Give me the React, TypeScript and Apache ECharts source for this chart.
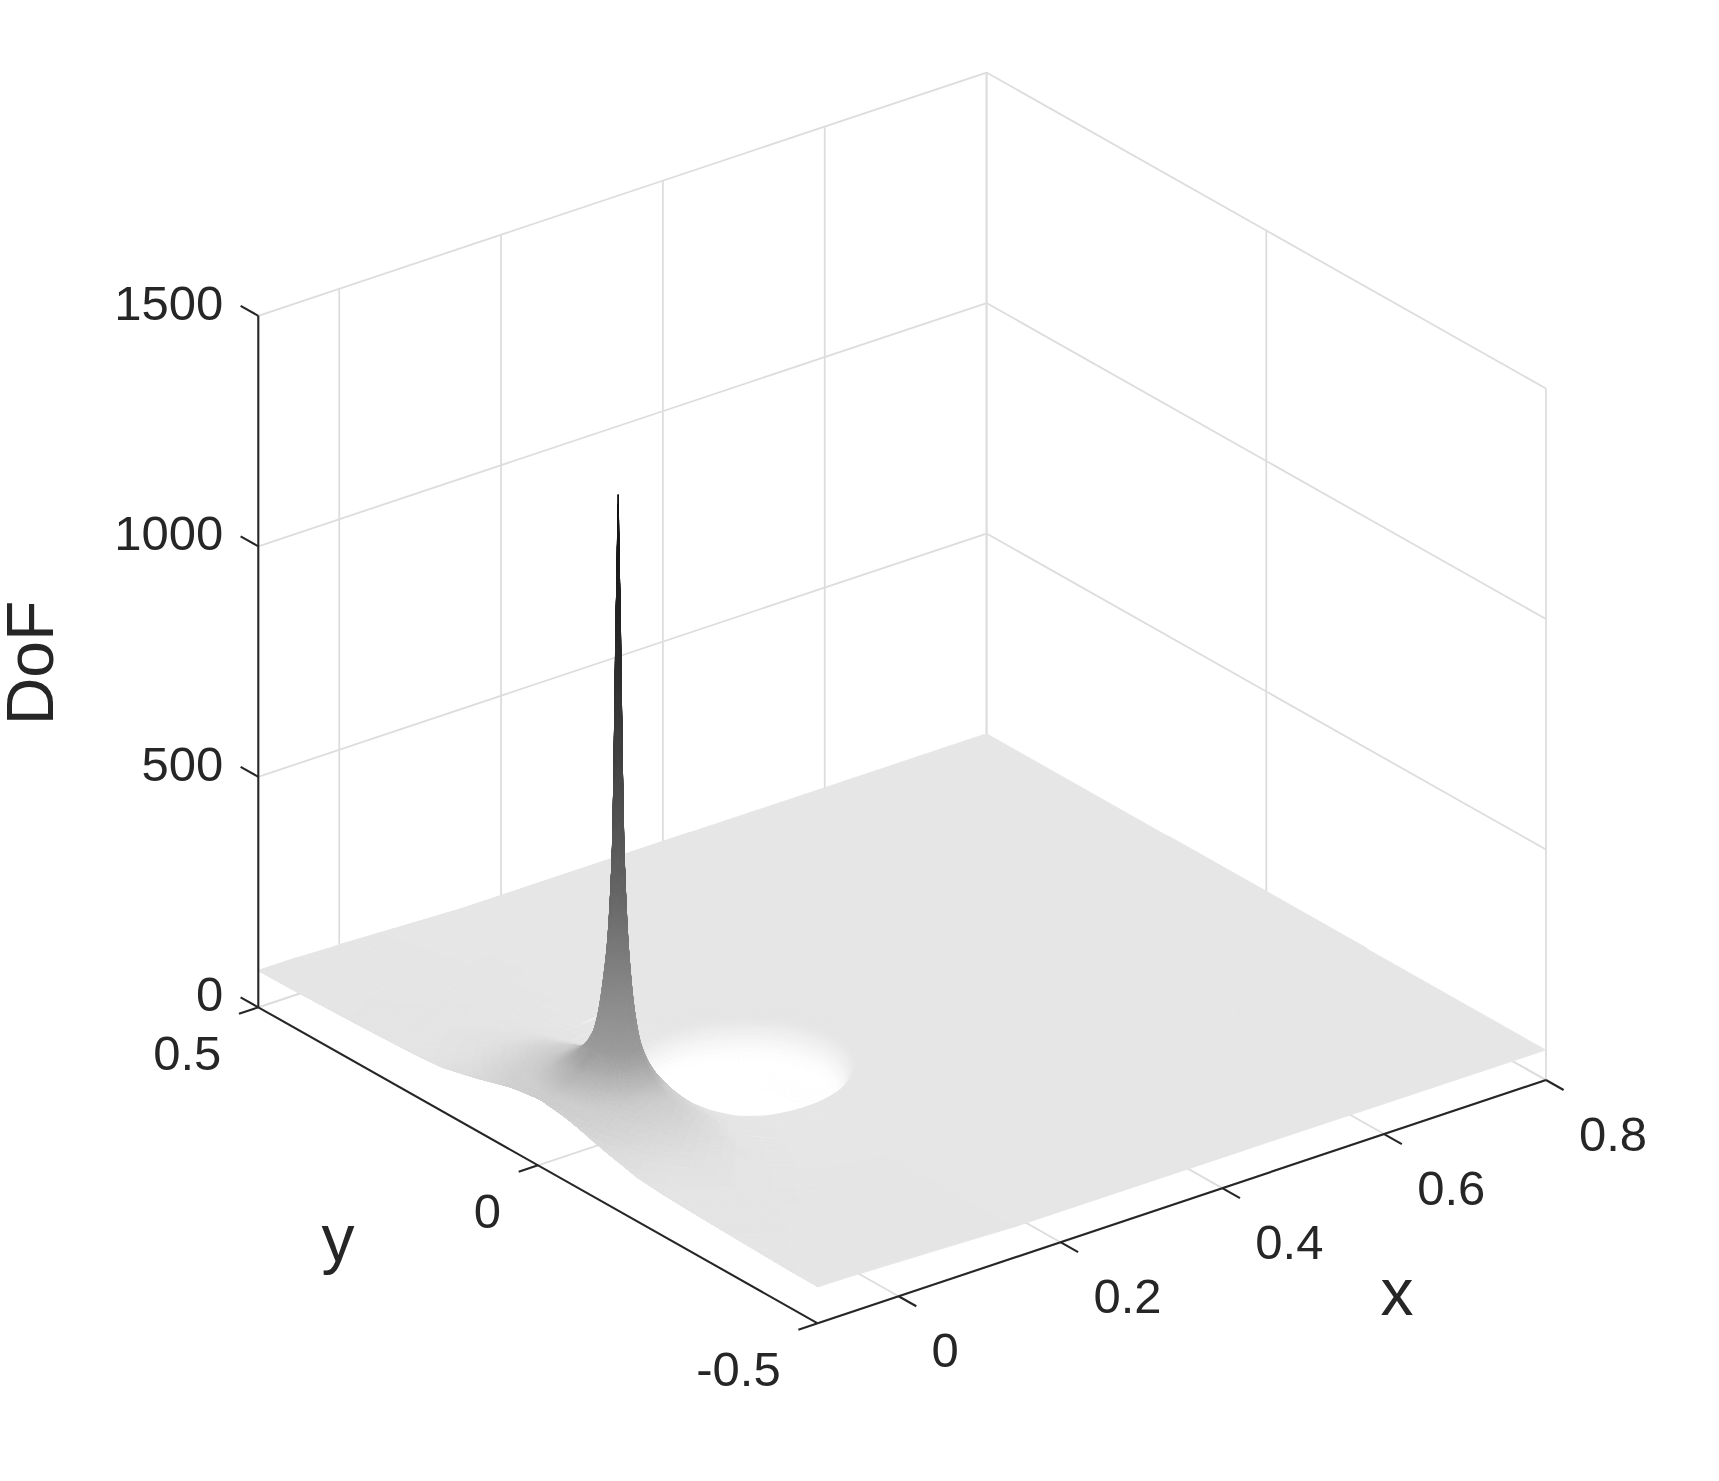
import React, { useEffect, useRef } from "react";
import * as echarts from "echarts";

// Axis ticks
const xTicks = [0, 0.2, 0.4, 0.6, 0.8];
const yTicks = [-0.5, 0, 0.5];
const zTicks = [0, 500, 1000, 1500];
const xTickLabels = ["0", "0.2", "0.4", "0.6", "0.8"];
const yTickLabels = ["-0.5", "0", "0.5"];
const zTickLabels = ["0", "500", "1000", "1500"];
const xRange = [-0.1, 0.8];
const yRange = [-0.5, 0.5];
const zRange = [0, 1500];

// Surface on a polar mesh around the hole
const holeCentre = [0.143, -0.003];
const wallRadii = [0, 0.098, 0.104, 0.11, 0.116];
const wallShares = [0, 0, 0.18, 0.5, 0.8];
const surfaceRadii = [0.121, 0.125, 0.13, 0.136, 0.141, 0.144, 0.146, 0.148, 0.151, 0.156, 0.165, 0.18, 0.2, 0.23, 0.27, 0.33, 0.42, 0.53, 0.68];
const surfaceAngles = [0, 0.6, 1.2, 2.7, 5, 8, 12, 17, 24, 32, 42, 55, 70, 90, 115, 140, 165, 180];
const dofA0 = [164, 187, 256, 403, 700, 1180, 1400, 1180, 700, 440, 284, 205, 171, 147, 145, 145, 145, 145, 145];
const dofA1 = [164, 187, 256, 401, 682, 1090, 1240, 1090, 682, 438, 284, 205, 171, 147, 145, 145, 145, 145, 145];
const dofA2 = [164, 187, 254, 397, 630, 910, 985, 895, 620, 432, 280, 204, 171, 147, 145, 145, 145, 145, 145];
const dofA3 = [163, 185, 243, 367, 490, 530, 537, 528, 485, 398, 267, 202, 170, 147, 143, 143, 142, 142, 141];
const dofA4 = [160, 178, 224, 299, 369, 388, 390, 384, 366, 319, 246, 199, 169, 146, 142, 141, 140, 138, 134];
const dofA5 = [153, 171, 200, 233, 258, 268, 267, 266, 261, 247, 219, 190, 165, 145, 139, 138, 134, 130, 120];
const dofA6 = [141, 158, 176, 193, 204, 214, 213, 213, 211, 207, 197, 178, 160, 143, 135, 131, 124, 115, 105];
const dofA7 = [129, 142, 155, 169, 175, 180, 183, 187, 186, 183, 175, 165, 152, 142, 127, 120, 112, 101, 93];
const dofA8 = [114, 121, 135, 144, 148, 150, 151, 153, 156, 162, 158, 150, 147, 134, 115, 108, 96, 91, 87];
const dofA9 = [101, 105, 112, 123, 128, 129, 130, 132, 133, 137, 143, 142, 136, 123, 108, 95, 90, 87, 83];
const dofA10 = [88, 91, 94, 99, 102, 104, 104, 105, 109, 114, 117, 121, 122, 112, 98, 90, 87, 84, 80];
const dofA11 = [75, 76, 77, 79, 80, 81, 81, 82, 82, 83, 85, 88, 94, 94, 93, 89, 85, 81, 79];
const dofA12 = [69, 69, 69, 69, 69, 69, 69, 69, 69, 70, 70, 70, 71, 73, 77, 83, 82, 80, 79];
const dofA13 = [68, 68, 68, 68, 68, 68, 68, 68, 68, 68, 68, 68, 68, 67, 67, 67, 67, 67, 67];
const dofA14 = [67, 67, 67, 67, 67, 67, 67, 67, 67, 67, 67, 67, 67, 67, 67, 67, 67, 67, 67];
const dofA15 = [67, 67, 67, 67, 67, 67, 67, 67, 67, 67, 67, 67, 67, 67, 67, 67, 67, 67, 67];
const dofA16 = [67, 67, 67, 67, 67, 67, 67, 67, 67, 67, 67, 67, 67, 67, 67, 67, 67, 67, 67];
const dofA17 = [67, 67, 67, 67, 67, 67, 67, 67, 67, 67, 67, 67, 67, 67, 67, 67, 67, 67, 67];
const dofRows = [dofA0, dofA1, dofA2, dofA3, dofA4, dofA5, dofA6, dofA7, dofA8, dofA9, dofA10, dofA11, dofA12, dofA13, dofA14, dofA15, dofA16, dofA17];
const plateXs = [0.143, 0.8];
const plateYs = [0.5, -0.5];
const plateDof = [67, 66, 65, 67];

// Height to grey level of the surface colour map
const greyHeights = [0, 12, 33, 54, 67, 90, 110, 145, 165, 190, 215, 300, 540, 670, 1017, 1400];
const greyLevels = [255, 252, 245, 236, 230, 228, 220, 205, 185, 166, 155, 142, 102, 85, 45, 16];

const W = 1719;
const H = 1481;
const INK = "#262626";
const GRIDC = "#dddddd";
const FONT = '"Liberation Sans", Arial, sans-serif';

type P3 = [number, number, number];

function baseDepth(x: number, y: number) {
  return 1323.3 - (x - xRange[0]) * 270.3 - (y - yRange[0]) * 316;
}
function project(p: P3): [number, number] {
  return [
    817.7 + (p[0] - xRange[0]) * 809.2 - (p[1] - yRange[0]) * 559.4,
    baseDepth(p[0], p[1]) - p[2] * 0.461,
  ];
}
function greyOf(z: number) {
  let i = 0;
  while (i < greyHeights.length - 2 && z > greyHeights[i + 1]) i++;
  const t = (z - greyHeights[i]) / (greyHeights[i + 1] - greyHeights[i]);
  return greyLevels[i] + (greyLevels[i + 1] - greyLevels[i]) * Math.max(0, Math.min(1, t));
}
function cssGrey(g: number) {
  const v = Math.round(g);
  return `rgb(${v},${v},${v})`;
}
function clampTo(v: number, range: number[]) {
  return Math.max(range[0], Math.min(range[1], v));
}
function polar(r: number, phiDeg: number): [number, number] {
  const a = (phiDeg * Math.PI) / 180;
  return [
    clampTo(holeCentre[0] - r * Math.cos(a), xRange),
    clampTo(holeCentre[1] + r * Math.sin(a), yRange),
  ];
}

type Cell = { pts: P3[]; grey: number; key: number };

function buildCells(): Cell[] {
  const cells: Cell[] = [];
  const radii = [...wallRadii, ...surfaceRadii];
  const heightRow = (row: number[]) => [...wallShares.map((s) => s * row[0]), ...row];
  const signed: number[] = [];
  const rows: number[][] = [];
  for (let i = surfaceAngles.length - 1; i > 0; i--) {
    signed.push(-surfaceAngles[i]);
    rows.push(heightRow(dofRows[i]));
  }
  surfaceAngles.forEach((a, i) => {
    signed.push(a);
    rows.push(heightRow(dofRows[i]));
  });
  for (let j = 0; j < signed.length - 1; j++) {
    for (let i = 0; i < radii.length - 1; i++) {
      const z00 = rows[j][i];
      const z01 = rows[j][i + 1];
      const z10 = rows[j + 1][i];
      const z11 = rows[j + 1][i + 1];
      const gs = [z00, z01, z10, z11].map(greyOf);
      const dG = Math.max(...gs) - Math.min(...gs);
      const dZ = Math.max(z00, z01, z10, z11) - Math.min(z00, z01, z10, z11);
      let nr = Math.min(10, Math.max(1, Math.ceil(dG / 3)));
      let nt = nr;
      if (dZ > 120) {
        nr = Math.max(nr, 6);
        nt = Math.max(nt, 4);
      }
      const dPhi = signed[j + 1] - signed[j];
      if (radii[i] <= 0.13) nt = Math.max(nt, Math.ceil(dPhi / 3));
      else if (dPhi > 10 && radii[i] >= 0.2 && Math.abs(signed[j]) < 90) nt = Math.max(nt, 4);
      if (radii[i] >= 0.2 && Math.abs(signed[j]) < 90) nr = Math.max(nr, 3);
      const at = (a: number, b: number): P3 => {
        const r = radii[i] + (radii[i + 1] - radii[i]) * a;
        const phi = signed[j] + dPhi * b;
        const [x, y] = polar(r, phi);
        const z = (1 - a) * (1 - b) * z00 + a * (1 - b) * z01 + (1 - a) * b * z10 + a * b * z11;
        return [x, y, z];
      };
      for (let a = 0; a < nr; a++) {
        for (let b = 0; b < nt; b++) {
          const pts = [
            at(a / nr, b / nt),
            at((a + 1) / nr, b / nt),
            at((a + 1) / nr, (b + 1) / nt),
            at(a / nr, (b + 1) / nt),
          ];
          const mx = (pts[0][0] + pts[1][0] + pts[2][0] + pts[3][0]) / 4;
          const my = (pts[0][1] + pts[1][1] + pts[2][1] + pts[3][1]) / 4;
          const mz = (pts[0][2] + pts[1][2] + pts[2][2] + pts[3][2]) / 4;
          cells.push({ pts, grey: greyOf(mz), key: baseDepth(mx, my) });
        }
      }
    }
  }
  cells.sort((p, q) => p.key - q.key);
  const plate: P3[] = [
    [plateXs[0], plateYs[0], plateDof[0]],
    [plateXs[1], plateYs[0], plateDof[1]],
    [plateXs[1], plateYs[1], plateDof[2]],
    [plateXs[0], plateYs[1], plateDof[3]],
  ];
  cells.unshift({ pts: plate, grey: 230, key: -1e9 });
  return cells;
}

type Seg = { a: P3; b: P3; color: string; width: number };

function buildGrid(): Seg[] {
  const s: Seg[] = [];
  const seg = (a: P3, b: P3) => s.push({ a, b, color: GRIDC, width: 1.8 });
  const [x0, x1] = xRange;
  const [y0, y1] = yRange;
  const [z0, z1] = zRange;
  zTicks.forEach((z) => {
    seg([x0, y1, z], [x1, y1, z]);
    seg([x1, y1, z], [x1, y0, z]);
  });
  xTicks.forEach((x) => {
    seg([x, y1, z0], [x, y1, z1]);
    seg([x, y0, z0], [x, y1, z0]);
  });
  yTicks.forEach((y) => {
    seg([x1, y, z0], [x1, y, z1]);
    seg([x0, y, z0], [x1, y, z0]);
  });
  return s;
}

function buildAxes(): Seg[] {
  const s: Seg[] = [];
  const seg = (a: P3, b: P3) => s.push({ a, b, color: INK, width: 2.1 });
  const [x0] = xRange;
  const [x1] = [xRange[1]];
  const [y0, y1] = yRange;
  const [z0, z1] = zRange;
  seg([x0, y1, z0], [x0, y1, z1]);
  seg([x0, y1, z0], [x0, y0, z0]);
  seg([x0, y0, z0], [x1, y0, z0]);
  zTicks.forEach((z) => seg([x0, y1, z], [x0, y1 + 0.0316, z]));
  yTicks.forEach((y) => seg([x0, y, z0], [x0 - 0.0239, y, z0]));
  xTicks.forEach((x) => seg([x, y0, z0], [x, y0 - 0.0316, z0]));
  return s;
}

type Label = { text: string; x: number; y: number; size: number; align: string; rotate?: number };

function buildLabels(): Label[] {
  const out: Label[] = [];
  zTicks.forEach((z, i) => {
    const [sx, sy] = project([xRange[0], yRange[1], z]);
    out.push({ text: zTickLabels[i], x: sx - 35, y: sy - 13, size: 49, align: "right" });
  });
  yTicks.forEach((y, i) => {
    const [sx, sy] = project([xRange[0], y, 0]);
    out.push({ text: yTickLabels[i], x: sx - 37, y: sy + 46, size: 49, align: "right" });
  });
  xTicks.forEach((x, i) => {
    const [sx, sy] = project([x, yRange[0], 0]);
    out.push({ text: xTickLabels[i], x: sx + 33, y: sy + 54, size: 49, align: "left" });
  });
  out.push({ text: "x", x: 1397, y: 1292, size: 66, align: "center" });
  out.push({ text: "y", x: 338, y: 1238, size: 66, align: "center" });
  out.push({ text: "DoF", x: 30, y: 663, size: 66, align: "center", rotate: Math.PI / 2 });
  return out;
}

function segSeries(segs: Seg[], z: number) {
  return {
    type: "custom",
    coordinateSystem: "cartesian2d",
    silent: true,
    clip: false,
    z,
    encode: { x: 0, y: 0 },
    data: segs.map((_, i) => [i]),
    renderItem: (params: any, api: any) => {
      const sg = segs[params.dataIndex];
      const a = api.coord(project(sg.a));
      const b = api.coord(project(sg.b));
      return {
        type: "line",
        shape: { x1: a[0], y1: a[1], x2: b[0], y2: b[1] },
        style: { stroke: sg.color, lineWidth: sg.width, fill: null },
      };
    },
  };
}

export default function App() {
  const ref = useRef<HTMLDivElement>(null);
  useEffect(() => {
    document.body.style.margin = "0";
    const chart = echarts.init(ref.current!, undefined, { renderer: "svg" });
    const cells = buildCells();
    const labels = buildLabels();
    chart.setOption({
      animation: false,
      backgroundColor: "#ffffff",
      grid: { left: 0, right: 0, top: 0, bottom: 0 },
      xAxis: { type: "value", min: 0, max: W, show: false },
      yAxis: { type: "value", min: 0, max: H, inverse: true, show: false },
      series: [
        segSeries(buildGrid(), 1),
        {
          type: "custom",
          coordinateSystem: "cartesian2d",
          silent: true,
          clip: false,
          progressive: 0,
          z: 2,
          encode: { x: 0, y: 0 },
          data: cells.map((_, i) => [i]),
          renderItem: (params: any, api: any) => {
            const c = cells[params.dataIndex];
            const col = cssGrey(c.grey);
            return {
              type: "polygon",
              shape: { points: c.pts.map((p) => api.coord(project(p))) },
              style: { fill: col, stroke: col, lineWidth: 0.6 },
            };
          },
        },
        segSeries(buildAxes(), 3),
        {
          type: "custom",
          coordinateSystem: "cartesian2d",
          silent: true,
          clip: false,
          z: 4,
          encode: { x: 0, y: 0 },
          data: labels.map((_, i) => [i]),
          renderItem: (params: any, api: any) => {
            const l = labels[params.dataIndex];
            const p = api.coord([l.x, l.y]);
            return {
              type: "text",
              x: p[0],
              y: p[1],
              rotation: l.rotate || 0,
              style: {
                text: l.text,
                x: 0,
                y: 0,
                fill: INK,
                font: `${l.size}px ${FONT}`,
                align: l.align,
                verticalAlign: "middle",
                textAlign: l.align,
                textVerticalAlign: "middle",
              },
            };
          },
        },
      ],
    });
    return () => chart.dispose();
  }, []);
  return <div ref={ref} style={{ width: W, height: H, position: "absolute", left: 0, top: 0 }} />;
}
